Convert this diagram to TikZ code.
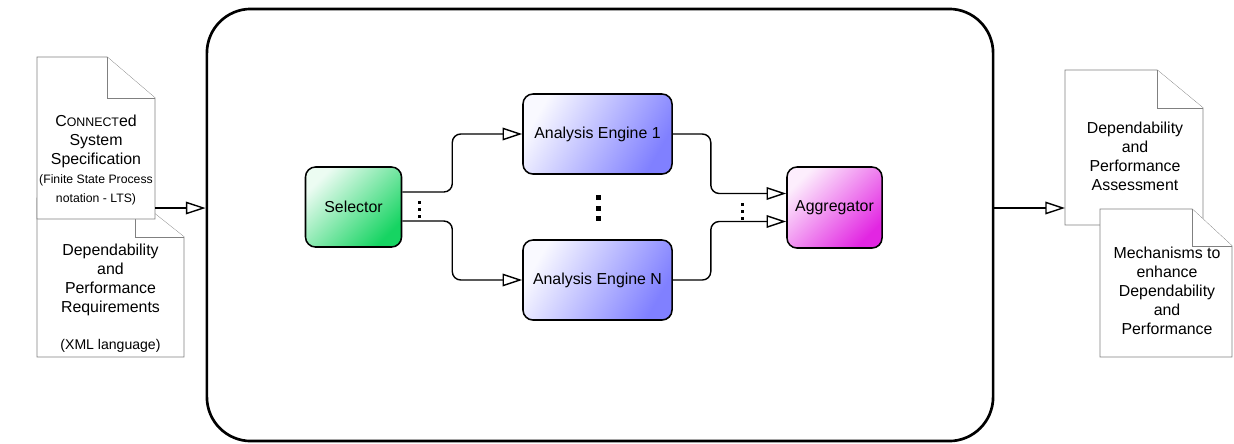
\documentclass[tikz,border=0pt]{standalone}
\usepackage{fontspec}
\setmainfont{Liberation Sans}
\usetikzlibrary{arrows.meta,calc}
\definecolor{selgreen}{RGB}{22,212,98}
\definecolor{engblue}{RGB}{128,128,255}
\definecolor{aggpink}{RGB}{226,38,226}
\tikzstyle{stage}=[draw, line width=1.1pt, rounded corners=0.25cm, minimum height=2cm, font=\fontsize{11.3}{13.5}\selectfont]
\tikzstyle{flow}=[line width=1pt, -{Triangle[open, length=14pt, width=9pt]}]
\tikzstyle{page}=[draw=black!50, line width=0.6pt, fill=white]
\tikzstyle{pagetext}=[align=center, inner sep=0pt, font=\fontsize{11.3}{13.5}\selectfont]
\newcommand{\docpage}[6]{%
  \draw[page] (#1,#2) -- (#1,#4) -- (#3,#4) -- (#3,#6) -- (#5,#2) -- cycle;
  \draw[page] (#5,#2) |- (#3,#6);}

\begin{document}
\begin{tikzpicture}[x=0.025cm, y=-0.025cm]
\useasboundingbox (0,0) rectangle (1234,443);

% tool frame
\node[draw, line width=1.9pt, rounded corners=1.1cm, minimum width=19.65cm, minimum height=10.8cm] (core) at (600,225) {};

% stages
\node[stage, minimum width=2.4cm, top color=selgreen!8, bottom color=selgreen, shading angle=45] (selector) at (353.5,207) {Selector};
\node[stage, minimum width=3.725cm, top color=engblue!5, bottom color=engblue, shading angle=60] (engine1) at (597.5,134) {Analysis Engine 1};
\node[stage, minimum width=3.725cm, top color=engblue!5, bottom color=engblue, shading angle=60] (engineN) at (597.5,280) {Analysis Engine N};
\node[stage, minimum width=2.375cm, minimum height=2.025cm, top color=aggpink!8, bottom color=aggpink, shading angle=45] (aggregator) at (834.5,207.5) {Aggregator};

\draw[flow, rounded corners=6pt] ($(selector.east)+(0,-15)$) -- ++(50,0) |- (engine1.west);
\draw[flow, rounded corners=6pt] ($(selector.east)+(0,14)$) -- ++(50,0) |- (engineN.west);
\draw[flow, rounded corners=6pt] (engine1.east) -- ++(38,0) |- ($(aggregator.west)+(0,-14)$);
\draw[flow, rounded corners=6pt] (engineN.east) -- ++(38,0) |- ($(aggregator.west)+(0,14)$);

% dots
\foreach \y in {200.5,207.5,214.5} \fill (417.5,\y) rectangle ++(3.5,3.5);
\foreach \y in {194.5,205.5,215.5} \fill (595.5,\y) rectangle ++(5,5);
\foreach \y in {202.5,209.5,216.5} \fill (740.5,\y) rectangle ++(3.5,3.5);

% input documents
\docpage{37}{198}{184}{357}{135}{237}
\docpage{37}{57}{155}{219}{107}{98}
\node[pagetext] (spec) at (96,160) {C{\fontsize{8.8}{13.5}\selectfont ONNECT}ed\\System\\Specification\\{\fontsize{8.7}{13.5}\selectfont (Finite State Process}\\{\fontsize{8.7}{13.5}\selectfont notation - LTS)}};
\node[pagetext] (req) at (110.5,298) {Dependability\\and\\Performance\\Requirements\\[13pt]{\fontsize{10}{13.5}\selectfont (XML language)}};

\coordinate (specout) at (155,208);
\draw[flow] (specout) -- (specout -| core.west);

% output documents
\docpage{1065}{70}{1203}{225}{1157}{108}
\docpage{1100}{209}{1232}{357}{1192}{246}
\node[pagetext] (assess) at (1135,156) {Dependability\\and\\Performance\\Assessment};
\node[pagetext] (mech) at (1167,291) {Mechanisms to\\enhance\\Dependability\\and\\Performance};

\coordinate (assessin) at (1065,208);
\draw[flow] (core.east |- assessin) -- (assessin);
\end{tikzpicture}
\end{document}
